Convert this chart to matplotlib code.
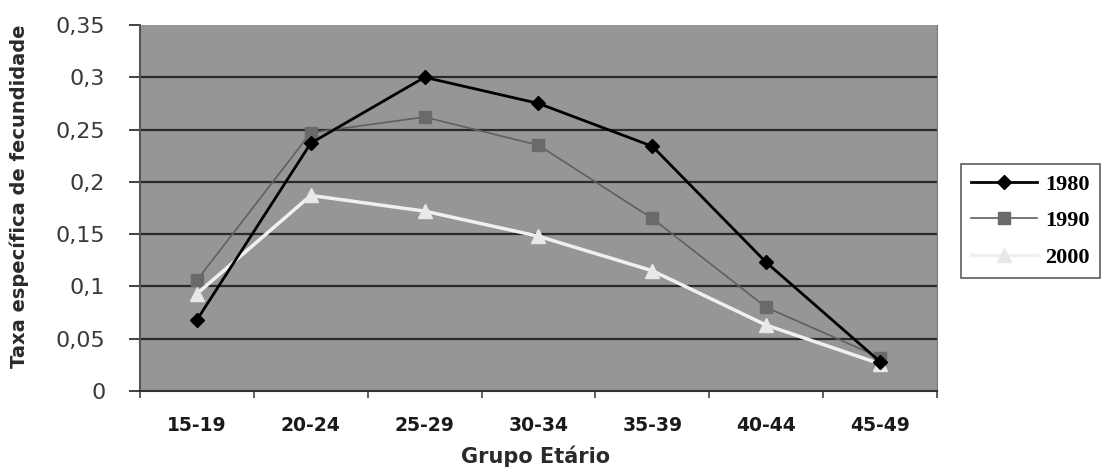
import matplotlib
matplotlib.use("Agg")
import matplotlib.pyplot as plt
import numpy as np

categories = ["15-19", "20-24", "25-29", "30-34", "35-39", "40-44", "45-49"]
y1980 = [0.068, 0.237, 0.300, 0.275, 0.234, 0.123, 0.028]
y1990 = [0.106, 0.247, 0.262, 0.235, 0.165, 0.080, 0.032]
y2000 = [0.093, 0.187, 0.172, 0.148, 0.115, 0.063, 0.026]
yticks = [0, 0.05, 0.1, 0.15, 0.2, 0.25, 0.3, 0.35]
ytick_labels = ["0", "0,05", "0,1", "0,15", "0,2", "0,25", "0,3", "0,35"]

W, H = 1109, 471
fig = plt.figure(figsize=(W/100, H/100), dpi=100)
ax = fig.add_axes([140/W, (H-391)/H, (937-140)/W, (391-25)/H])
ax.set_facecolor("#969696")

x = np.arange(len(categories))
ax.set_xlim(-0.5, len(categories) - 0.5)
ax.set_ylim(0, 0.35)

for yv in yticks[1:-1]:
    ax.axhline(yv, color="#2a2a2a", lw=1.6, zorder=1)

ax.plot(x, y1990, color="#606060", lw=1.2, marker="s", ms=9, mfc="#6a6a6a", mec="#6a6a6a", label="1990", zorder=3)
ax.plot(x, y1980, color="#000000", lw=2.0, marker="D", ms=7, mfc="#000000", mec="#000000", label="1980", zorder=4)
ax.plot(x, y2000, color="#f0f0f0", lw=2.5, marker="^", ms=10, mfc="#e8e8e8", mec="#e8e8e8", label="2000", zorder=3)

ax.set_yticks(yticks)
ax.set_yticklabels(ytick_labels, fontsize=16, family="DejaVu Sans", color="#3a3a3a")
ax.set_xticks(x)
ax.set_xticklabels(categories, fontsize=13.5, family="DejaVu Sans", fontweight="bold", color="#1a1a1a")
ax.set_xticks(np.arange(-0.5, len(categories)), minor=True)
ax.tick_params(axis="x", which="major", length=0, pad=18)
ax.tick_params(axis="x", which="minor", length=5, direction="out", color="#444444", width=1.2)
ax.tick_params(axis="y", length=8, direction="out", color="#333333", width=1.3, pad=17)

ax.spines["top"].set_visible(False)
ax.spines["right"].set_color("#777777")
ax.spines["left"].set_color("#555555")
ax.spines["left"].set_linewidth(1.5)
ax.spines["bottom"].set_color("#333333")
ax.spines["bottom"].set_linewidth(1.5)

fig.text(19/W, 1 - 196/H, "Taxa específica de fecundidade", rotation=90, ha="center", va="center",
         fontsize=14, family="DejaVu Sans", fontweight="bold", color="#2a2a2a")
fig.text(536/W, 1 - 456/H, "Grupo Etário", ha="center", va="center",
         fontsize=15, family="DejaVu Sans", fontweight="bold", color="#2a2a2a")

handles, labels = ax.get_legend_handles_labels()
order = [labels.index(l) for l in ["1980", "1990", "2000"]]
leg = fig.legend([handles[i] for i in order], [labels[i] for i in order],
                 loc="upper left", bbox_to_anchor=(961/W, 1 - 164/H),
                 prop={"family": "Liberation Serif", "weight": "bold", "size": 16},
                 frameon=True, fancybox=False, edgecolor="#333333", handlelength=2.95,
                 borderpad=0.45, labelspacing=0.72, handletextpad=0.4, borderaxespad=0)
leg.get_frame().set_linewidth(1.2)

fig.savefig("out.png", dpi=100)
